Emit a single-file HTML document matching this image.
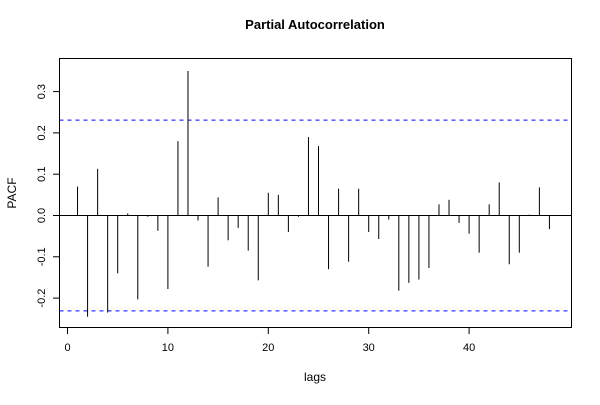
<!DOCTYPE html>
<html><head><meta charset="utf-8"><style>
body{margin:0;background:#fff;}
svg text{font-family:"Liberation Sans",sans-serif;fill:#000;}
</style></head><body>
<svg id="chart" width="600" height="400" xmlns="http://www.w3.org/2000/svg">
<text x="315" y="29" font-size="13" font-weight="bold" text-anchor="middle">Partial Autocorrelation</text>
<text x="315" y="381" font-size="12" text-anchor="middle">lags</text>
<text x="16" y="193" font-size="12" text-anchor="middle" transform="rotate(-90 16 193)">PACF</text>
<rect x="59.5" y="58.5" width="512" height="269" fill="none" stroke="#000" stroke-width="1"/>
<g id="marks"></g>
</svg>
<script>
const lags=[1,2,3,4,5,6,7,8,9,10,11,12,13,14,15,16,17,18,19,20,21,22,23,24,25,26,27,28,29,30,31,32,33,34,35,36,37,38,39,40,41,42,43,44,45,46,47,48];
const pacf=[0.070,-0.245,0.113,-0.235,-0.140,0.005,-0.203,-0.003,-0.037,-0.178,0.180,0.350,-0.012,-0.124,0.044,-0.060,-0.030,-0.085,-0.157,0.055,0.050,-0.040,-0.003,0.190,0.168,-0.130,0.065,-0.112,0.065,-0.040,-0.057,-0.010,-0.182,-0.163,-0.155,-0.127,0.027,0.038,-0.018,-0.044,-0.090,0.027,0.080,-0.118,-0.090,0.002,0.068,-0.033];
const yTicks=[-0.2,-0.1,0.0,0.1,0.2,0.3];
const yTickLabels=["-0.2","-0.1","0.0","0.1","0.2","0.3"];
const xTicks=[0,10,20,30,40];
const ci=0.231;
const NS="http://www.w3.org/2000/svg";
const svg=document.getElementById('chart');
const X=v=>67+v*10.04;
const Y=v=>215.5-v*413;
function el(t,a){const e=document.createElementNS(NS,t);for(const k in a)e.setAttribute(k,a[k]);svg.appendChild(e);return e;}
let z=el('line',{x1:59.5,x2:571.5,y1:Y(0),y2:Y(0),stroke:'#000'});


[ci,-ci].forEach((c,i)=>{
 const l=el('line',{x1:59.5,x2:571.5,y1:Y(c),y2:Y(c),stroke:'#0000ff','stroke-dasharray':'4,4'});
 
 
});
lags.forEach((g,i)=>{
 const l=el('line',{x1:X(g)+0.5,x2:X(g)+0.5,y1:Y(0),y2:Y(pacf[i]),stroke:'#000'});
 
 
});
el('line',{x1:59.5,x2:59.5,y1:Y(yTicks[0]),y2:Y(yTicks[yTicks.length-1]),stroke:'#000'});
yTicks.forEach((t,i)=>{
 const l=el('line',{x1:53,x2:59.5,y1:Y(t),y2:Y(t),stroke:'#000'});
 
 
 const tx=el('text',{x:0,y:0,'font-size':'11','text-anchor':'middle',transform:`translate(45 ${Y(t)}) rotate(-90)`});
 tx.textContent=yTickLabels[i];
 
 
});
xTicks.forEach(t=>{
 const l=el('line',{x1:X(t)+0.5,x2:X(t)+0.5,y1:327.5,y2:334,stroke:'#000'});
 
 
 const tx=el('text',{x:X(t)+0.5,y:351,'font-size':'11','text-anchor':'middle'});
 tx.textContent=String(t);
 
 
});
</script>
</body></html>
